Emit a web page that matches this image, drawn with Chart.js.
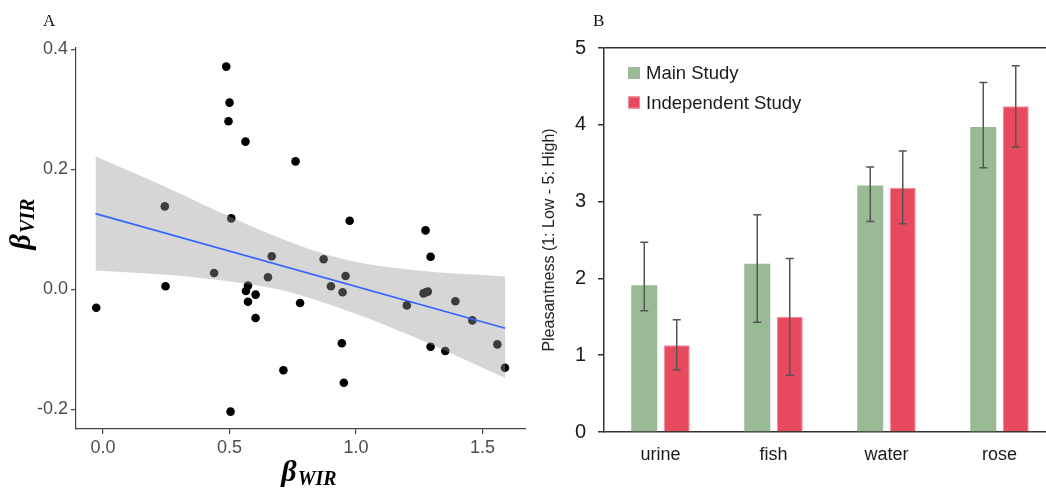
<!DOCTYPE html>
<html><head><meta charset="utf-8">
<script src="https://cdn.jsdelivr.net/npm/chart.js@4.4.1/dist/chart.umd.min.js"></script>
<style>
html,body{margin:0;padding:0;background:#fff;overflow:hidden;width:1046px;height:488px;position:relative;}
#wrapA{position:absolute;left:0;top:0;width:530px;height:488px;}
#wrapB{position:absolute;left:530px;top:0;width:530px;height:488px;}
canvas{display:block;}
</style></head><body>
<div id="wrapA"><canvas id="chartA" width="530" height="488"></canvas></div>
<div id="wrapB"><canvas id="chartB" width="530" height="488"></canvas></div>
<script>
// ---------- Panel A data ----------
const betaWIR = [-0.027, 0.244, 0.247, 0.439, 0.487, 0.500, 0.496, 0.507, 0.504, 0.563,
                 0.565, 0.573, 0.573, 0.603, 0.603, 0.652, 0.667, 0.713, 0.761, 0.779,
                 0.872, 0.901, 0.944, 0.947, 0.952, 0.959, 0.975, 1.201, 1.267, 1.276,
                 1.284, 1.275, 1.295, 1.295, 1.353, 1.393, 1.460, 1.559, 1.589];
const betaVIR = [-0.031, 0.138, 0.005, 0.027, 0.371, 0.311, 0.280, 0.118, -0.204, 0.246,
                 -0.003, 0.006, -0.021, -0.009, -0.048, 0.020, 0.055, -0.135, 0.213, -0.023,
                 0.050, 0.005, -0.090, -0.005, -0.156, 0.022, 0.114, -0.027, -0.007, -0.005,
                 -0.004, 0.098, 0.054, -0.096, -0.103, -0.020, -0.052, -0.092, -0.131];
const fitX = [-0.03, 1.59];
const fitY = [0.126, -0.065];
const bandX = [-0.03, 0.25, 0.5, 0.7, 0.96, 1.225, 1.59];
const bandUpper = [0.221, 0.170, 0.121, 0.085, 0.049, 0.032, 0.021];
const bandLower = [0.031, 0.024, 0.013, -0.001, -0.035, -0.079, -0.148];
const xTickValues = [0, 0.5, 1.0, 1.5];
const yTickValues = [-0.2, 0, 0.2, 0.4];

// ---------- Panel B data ----------
const odors = ['urine', 'fish', 'water', 'rose'];
const mainStudy = [1.91, 2.19, 3.21, 3.97];
const mainLow = [1.58, 1.43, 2.74, 3.44];
const mainHigh = [2.47, 2.83, 3.45, 4.55];
const independentStudy = [1.13, 1.50, 3.18, 4.24];
const indLow = [0.81, 0.74, 2.71, 3.71];
const indHigh = [1.46, 2.26, 3.66, 4.77];
const bTickValues = [0, 1, 2, 3, 4, 5];

Chart.defaults.font.family = "'Liberation Sans', Arial, sans-serif";

const panelLabel = {
  id: 'panelLabel',
  afterDraw(chart, args, o) {
    const ctx = chart.ctx;
    ctx.save();
    ctx.font = "17px 'Liberation Serif', 'Times New Roman', serif";
    ctx.fillStyle = '#111';
    ctx.textBaseline = 'alphabetic';
    ctx.textAlign = 'left';
    ctx.fillText(o.text, o.x, o.y);
    ctx.restore();
  }
};

function drawSubText(ctx, main, sub, cx, base, rotated) {
  const mainFont = "bold italic 30px 'Liberation Serif', 'DejaVu Serif', serif";
  const subFont = "bold italic 20px 'Liberation Serif', 'DejaVu Serif', serif";
  ctx.font = mainFont; const w1 = ctx.measureText(main).width;
  ctx.font = subFont; const w2 = ctx.measureText(sub).width;
  const total = w1 + w2 + 1;
  ctx.save();
  if (rotated) { ctx.translate(base, cx); ctx.rotate(-Math.PI / 2); }
  else { ctx.translate(cx, base); }
  ctx.textAlign = 'left'; ctx.textBaseline = 'alphabetic';
  ctx.fillStyle = '#000';
  ctx.font = mainFont; ctx.fillText(main, -total / 2, 0);
  ctx.font = subFont; ctx.fillText(sub, -total / 2 + w1 + 1, 4);
  ctx.restore();
}

const betaTitles = {
  id: 'betaTitles',
  afterDraw(chart, args, o) {
    const ctx = chart.ctx;
    drawSubText(ctx, o.xMain, o.xSub, o.xCenter, o.xBase, false);
    drawSubText(ctx, o.yMain, o.ySub, o.yCenter, o.yBase, true);
  }
};

new Chart(document.getElementById('chartA'), {
  type: 'scatter',
  data: {
    datasets: [
      { label: 'participants', data: betaWIR.map((x, i) => ({ x, y: betaVIR[i] })),
        backgroundColor: '#000', borderColor: '#000', borderWidth: 0,
        pointRadius: 4.3, pointHoverRadius: 4.3, order: 3 },
      { type: 'line', label: 'lower', data: bandX.map((x, i) => ({ x, y: bandLower[i] })),
        showLine: true, borderColor: 'rgba(0,0,0,0)', borderWidth: 0, pointRadius: 0,
        fill: false, cubicInterpolationMode: 'monotone', order: 2 },
      { type: 'line', label: 'upper', data: bandX.map((x, i) => ({ x, y: bandUpper[i] })),
        showLine: true, borderColor: 'rgba(0,0,0,0)', borderWidth: 0, pointRadius: 0,
        fill: '-1', backgroundColor: 'rgba(153,153,153,0.4)', cubicInterpolationMode: 'monotone', order: 2 },
      { type: 'line', label: 'fit', data: fitX.map((x, i) => ({ x, y: fitY[i] })),
        showLine: true, borderColor: '#3366FF', borderWidth: 1.7, pointRadius: 0, fill: false, order: 1 }
    ]
  },
  options: {
    responsive: false, animation: false,
    layout: { padding: { top: 48, right: 4, left: 0, bottom: 0 } },
    plugins: {
      legend: { display: false }, tooltip: { enabled: false },
      panelLabel: { text: 'A', x: 43, y: 26 },
      betaTitles: { xMain: 'β', xSub: 'WIR', xCenter: 309, xBase: 481,
                    yMain: 'β', ySub: 'VIR', yCenter: 224, yBase: 30 }
    },
    scales: {
      x: {
        type: 'linear', min: -0.107, max: 1.671,
        afterBuildTicks: s => { s.ticks = xTickValues.map(v => ({ value: v })); },
        afterFit: s => { s.height = 59; },
        grid: { display: true, drawOnChartArea: false, drawTicks: true, tickLength: 5, color: '#444', tickColor: '#444', lineWidth: 1.2 },
        border: { display: true, color: '#444', width: 1.2 },
        ticks: { padding: 3, color: '#4d4d4d', font: { size: 18 }, maxRotation: 0, autoSkip: false,
                 callback: v => Number(v).toFixed(1) }
      },
      y: {
        type: 'linear', min: -0.233, max: 0.402,
        afterBuildTicks: s => { s.ticks = yTickValues.map(v => ({ value: v })); },
        afterFit: s => { s.width = 76; },
        grid: { display: true, drawOnChartArea: false, drawTicks: true, tickLength: 5, color: '#444', tickColor: '#444', lineWidth: 1.2 },
        border: { display: true, color: '#444', width: 1.2 },
        ticks: { padding: 3, color: '#4d4d4d', font: { size: 18 }, autoSkip: false,
                 callback: v => Number(v).toFixed(1) }
      }
    }
  },
  plugins: [panelLabel, betaTitles]
});

const errorBars = {
  id: 'errorBars',
  afterDatasetsDraw(chart, args, o) {
    const ctx = chart.ctx, ys = chart.scales.y;
    ctx.save();
    ctx.strokeStyle = o.color; ctx.lineWidth = o.width;
    chart.data.datasets.forEach((ds, di) => {
      const meta = chart.getDatasetMeta(di);
      meta.data.forEach((bar, i) => {
        const x = bar.x;
        const yl = ys.getPixelForValue(ds.errLow[i]);
        const yh = ys.getPixelForValue(ds.errHigh[i]);
        ctx.beginPath();
        ctx.moveTo(x, yl); ctx.lineTo(x, yh);
        ctx.moveTo(x - o.cap, yl); ctx.lineTo(x + o.cap, yl);
        ctx.moveTo(x - o.cap, yh); ctx.lineTo(x + o.cap, yh);
        ctx.stroke();
      });
    });
    ctx.restore();
  }
};

const boxLegend = {
  id: 'boxLegend',
  afterDraw(chart, args, o) {
    const ctx = chart.ctx;
    ctx.save();
    ctx.font = "18.5px 'Liberation Sans', Arial, sans-serif";
    ctx.textBaseline = 'middle'; ctx.textAlign = 'left';
    chart.data.datasets.forEach((ds, i) => {
      const cy = o.y + i * o.gap;
      ctx.fillStyle = ds.backgroundColor;
      ctx.fillRect(o.x, cy - o.box / 2, o.box, o.box);
      if (ds.borderWidth) {
        ctx.strokeStyle = ds.borderColor; ctx.lineWidth = 1;
        ctx.strokeRect(o.x + 0.5, cy - o.box / 2 + 0.5, o.box - 1, o.box - 1);
      }
      ctx.fillStyle = '#1a1a1a';
      ctx.fillText(ds.label, o.x + o.box + 6, cy + 1);
    });
    ctx.restore();
  }
};

new Chart(document.getElementById('chartB'), {
  type: 'bar',
  data: {
    labels: odors,
    datasets: [
      { label: 'Main Study', data: mainStudy, errLow: mainLow, errHigh: mainHigh,
        backgroundColor: '#9ab995', borderWidth: 0 },
      { label: 'Independent Study', data: independentStudy, errLow: indLow, errHigh: indHigh,
        backgroundColor: '#e7495f', borderColor: '#f28e9b', borderWidth: 1 }
    ]
  },
  options: {
    responsive: false, animation: false,
    layout: { padding: { top: 48, right: 4, left: 0, bottom: 0 } },
    datasets: { bar: { categoryPercentage: 0.575, barPercentage: 0.8 } },
    plugins: {
      legend: { display: false }, tooltip: { enabled: false },
      panelLabel: { text: 'B', x: 63, y: 26 },
      errorBars: { color: '#555', width: 1.5, cap: 4 },
      boxLegend: { x: 98, y: 73, gap: 29.5, box: 12 }
    },
    scales: {
      x: {
        grid: { display: false, drawTicks: false },
        border: { display: true, color: '#333', width: 1.5 },
        ticks: { color: '#1a1a1a', font: { size: 18 }, padding: 12 },
        afterFit: s => { s.height = 56; }
      },
      y: {
        min: 0, max: 5,
        afterBuildTicks: s => { s.ticks = bTickValues.map(v => ({ value: v })); },
        afterFit: s => { s.width = 74; },
        grid: { color: c => (c.tick && c.tick.value === 5) ? '#333' : 'rgba(0,0,0,0)',
                tickColor: '#333', tickLength: 6, lineWidth: 1.5, drawTicks: true },
        border: { display: true, color: '#333', width: 1.5 },
        ticks: { color: '#1a1a1a', font: { size: 20 }, padding: 12 },
        title: { display: true, text: 'Pleasantness (1: Low - 5: High)', color: '#222',
                 font: { size: 16 }, padding: { top: 10, bottom: 0 } }
      }
    }
  },
  plugins: [panelLabel, errorBars, boxLegend]
});
</script>
</body></html>
